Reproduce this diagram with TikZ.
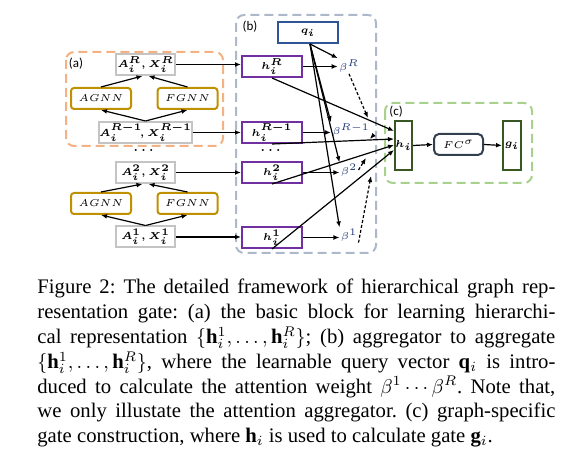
\documentclass[tikz,border=0pt]{standalone}
\usepackage{amsmath}
\usepackage{fontspec}
\setmainfont{Liberation Serif}
\newfontfamily\calib{Carlito}
\usetikzlibrary{arrows.meta}

\definecolor{arancio}{RGB}{244,177,131}
\definecolor{grigio}{RGB}{196,196,196}
\definecolor{oro}{RGB}{191,144,0}
\definecolor{grigioblu}{RGB}{173,185,202}
\definecolor{viola}{RGB}{112,48,160}
\definecolor{blu}{RGB}{47,85,151}
\definecolor{verdino}{RGB}{169,209,142}
\definecolor{verdescuro}{RGB}{56,87,35}
\definecolor{ardesia}{RGB}{50,63,79}
\definecolor{betacol}{RGB}{31,56,120}

\newcommand{\captfont}{\fontsize{10.35}{12.4}\selectfont\frenchspacing}

\begin{document}
\begin{tikzpicture}[x=0.5pt, y=-0.5pt,
  >={Latex[length=3pt,width=2.4pt]},
  box/.style={draw, line width=1pt, inner sep=0pt, minimum height=10.5pt,
    font=\fontsize{4.8}{5.8}\selectfont},
  abox/.style={box, draw=grigio, minimum width=29.5pt, font=\fontsize{4.4}{5.4}\selectfont},
  gnn/.style={box, draw=oro, rounded corners=1.5pt, minimum width=30pt},
  hnode/.style={box, draw=viola, minimum width=30pt},
  tallbox/.style={box, draw=verdescuro, minimum width=8.5pt, minimum height=24.5pt},
  group/.style={line width=1pt, rounded corners=4pt, dash pattern=on 4.5pt off 2.5pt},
  tag/.style={font=\calib\fontsize{6.5}{7.5}\selectfont, inner sep=0pt},
  beta/.style={text=betacol, inner sep=0.5pt, font=\fontsize{4.5}{5.5}\selectfont},
  dots/.style={inner sep=0pt, font=\fontsize{6}{7}\selectfont},
  ar/.style={->, line width=0.6pt},
  dashar/.style={->, line width=0.6pt, dash pattern=on 1.5pt off 1pt}]

  \useasboundingbox (0,0) rectangle (568,469);

  % riquadri (a) (b) (c)
  \draw[group, arancio] (66,52) rectangle (223,146);
  \draw[group, grigioblu] (236,15) rectangle (376,253);
  \draw[group, verdino] (385,103) rectangle (532,183);
  \node[tag] (tagA) at (76,64) {(a)};
  \node[tag] (tagB) at (250,27) {(b)};
  \node[tag] (tagC) at (396,112) {(c)};

  % blocco (a)
  \node[abox] (aR)  at (145.5,64.5)  {$\boldsymbol{A_i^R, X_i^R}$};
  \node[gnn]  (ag1) at (101,98.5)    {$AGNN$};
  \node[gnn]  (fg1) at (187.5,98.5)  {$FGNN$};
  \node[abox] (aR1) at (145.5,132.5) {$\boldsymbol{A_i^{R-1}\!, X_i^{R-1}}$};
  \node[dots] (dA)  at (145,151)     {$\boldsymbol{\cdots}$};
  \node[abox] (a2)  at (145.5,172.5) {$\boldsymbol{A_i^2, X_i^2}$};
  \node[gnn]  (ag2) at (101,203.5)   {$AGNN$};
  \node[gnn]  (fg2) at (187.5,203.5) {$FGNN$};
  \node[abox] (a1)  at (145.5,237)   {$\boldsymbol{A_i^1, X_i^1}$};

  \draw[ar] (aR1.north) -- (ag1.south);
  \draw[ar] (aR1.north) -- (fg1.south);
  \draw[ar] (ag1.north) -- ([xshift=-1.5pt]aR.south);
  \draw[ar] (fg1.north) -- ([xshift=1.5pt]aR.south);
  \draw[ar] (a1.north) -- (ag2.south);
  \draw[ar] (a1.north) -- (fg2.south);
  \draw[ar] (ag2.north) -- ([xshift=-1.5pt]a2.south);
  \draw[ar] (fg2.north) -- ([xshift=1.5pt]a2.south);

  % aggregatore (b)
  \node[box, draw=blu, minimum width=30pt] (q) at (308,32.5) {$\boldsymbol{q_i}$};
  \node[hnode] (hR)  at (272,66.5)  {$\boldsymbol{h_i^R}$};
  \node[hnode] (hR1) at (272,132.5) {$\boldsymbol{h_i^{R-1}}$};
  \node[dots]  (dH)  at (272,151)   {$\boldsymbol{\cdots}$};
  \node[hnode] (h2)  at (272,172.5) {$\boldsymbol{h_i^2}$};
  \node[hnode] (h1)  at (272,237.5) {$\boldsymbol{h_i^1}$};

  \node[beta] (bR)  at (349,66)  {$\beta^R$};
  \node[beta] (bR1) at (351,130) {$\beta^{R-1}$};
  \node[beta] (b2)  at (349,170) {$\beta^2$};
  \node[beta] (b1)  at (349,235) {$\beta^1$};

  \draw[ar] (aR.east)  -- (aR.east -| hR.west);
  \draw[ar] (aR1.east) -- (aR1.east -| hR1.west);
  \draw[ar] (a2.east)  -- (a2.east -| h2.west);
  \draw[ar] (a1.east)  -- (a1.east -| h1.west);

  \draw[ar] (hR.east)  -- (hR.east -| bR.west);
  \draw[ar] (hR1.east) -- (hR1.east -| bR1.west);
  \draw[ar] (h2.east)  -- (h2.east -| b2.west);
  \draw[ar] (h1.east)  -- (h1.east -| b1.west);

  \foreach \b in {bR,bR1,b2,b1}
    \draw[ar] ([xshift=1pt]q.south) -- (\b.north west);

  % gate (c)
  \node[tallbox] (hi) at (403.5,145.5) {$\boldsymbol{h_i}$};
  \node[box, draw=ardesia, rounded corners=2.5pt, minimum width=24.5pt] (fc)
    at (458.5,144.5) {$FC^\sigma$};
  \node[tallbox, minimum width=9pt] (gi) at (512,145.5) {$\boldsymbol{g_i}$};

  \draw[ar] (hR.south)  -- ([yshift=7.25pt]hi.west);
  \draw[ar] (hR1.south) -- ([yshift=3.25pt]hi.west);
  \draw[ar] (h2.south)  -- ([yshift=0.25pt]hi.west);
  \draw[ar] (h1.south)  -- ([yshift=-2.25pt]hi.west);
  \draw[ar] (hi.east) -- (fc.west);
  \draw[ar] (fc.east) -- (gi.west);

  % pesi tratteggiati
  \coordinate (eR)  at (368,118);
  \coordinate (eR1) at (370,139);
  \coordinate (e2)  at (366,158);
  \coordinate (e1)  at (371,176);
  \draw[dashar] (bR.south) -- (eR);
  \draw[dashar] (bR1.south east) -- (eR1);
  \draw[dashar] (b2.east) -- (e2);
  \draw[dashar] (b1.south east) -- (e1);

  % didascalia
  \node[anchor=north west, inner sep=0pt, font=\captfont]
    (caption) at (37,279) {\vbox{%
    \hbox to259pt{Figure 2: The detailed framework of hierarchical graph rep-}%
    \hbox to259pt{resentation gate: (a) the basic block for learning hierarchi-}%
    \hbox to259pt{cal representation $\{\mathbf{h}_i^1,\ldots,\mathbf{h}_i^R\}$; (b) aggregator to aggregate}%
    \hbox to259pt{$\{\mathbf{h}_i^1,\ldots,\mathbf{h}_i^R\}$, where the learnable query vector $\mathbf{q}_i$ is intro-}%
    \hbox to259pt{duced to calculate the attention weight $\beta^1\cdots\beta^R$. Note that,}%
    \hbox to259pt{we only illustate the attention aggregator. (c) graph-specific}%
    \hbox{gate construction, where $\mathbf{h}_i$ is used to calculate gate $\mathbf{g}_i$.}}};
\end{tikzpicture}
\end{document}
